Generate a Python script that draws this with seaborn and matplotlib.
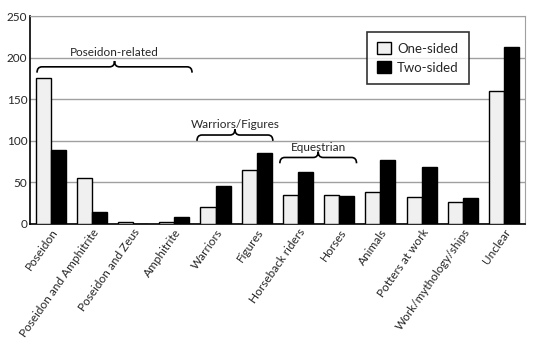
import numpy as np
import pandas as pd
import matplotlib
matplotlib.use('Agg')
import matplotlib.pyplot as plt
from matplotlib.path import Path
from matplotlib.patches import PathPatch, Patch
import seaborn as sns

categories = ['Poseidon', 'Poseidon and Amphitrite', 'Poseidon and Zeus', 'Amphitrite',
              'Warriors', 'Figures', 'Horseback riders', 'Horses', 'Animals',
              'Potters at work', 'Work/mythology/ships', 'Unclear']
one_sided = [175, 55, 3, 2, 21, 65, 35, 35, 38, 33, 26, 160]
two_sided = [89, 15, 0, 8, 46, 85, 62, 34, 77, 68, 31, 213]
series = ['One-sided', 'Two-sided']

# brace groups: label, first x, last x, brace height, text baseline
groups = [
    ('Poseidon-related', -0.33, 3.43, 189, 202),
    ('Warriors/Figures', 3.55, 5.39, 107, 116),
    ('Equestrian', 5.56, 7.42, 80, 88),
]

df = pd.DataFrame({
    'category': categories * 2,
    'type': [series[0]] * len(categories) + [series[1]] * len(categories),
    'count': one_sided + two_sided,
})

sns.set_style('white')
plt.rcParams['font.family'] = ['Lato', 'DejaVu Sans']

fig = plt.figure(figsize=(5.36, 3.5), dpi=100)
ax = fig.add_axes([0.056, 0.36, 0.923, 0.594])

sns.barplot(data=df, x='category', y='count', hue='type', order=categories,
            palette={'One-sided': '#f0f0f0', 'Two-sided': 'black'},
            edgecolor='black', linewidth=1, width=0.73, gap=0,
            ax=ax, zorder=3, legend=False)

ax.set_xlim(-0.5, len(categories) - 0.5)
ax.set_ylim(0, 250)
ax.set_yticks([0, 50, 100, 150, 200, 250])
ax.yaxis.grid(True, color='#a0a0a0', linewidth=1, zorder=0)
ax.set_axisbelow(True)
ax.set_xlabel('')
ax.set_ylabel('')
ax.tick_params(axis='both', length=0, labelsize=8.5, pad=2)
ax.set_xticks(range(len(categories)))
ax.set_xticklabels(categories, rotation=55, ha='right', rotation_mode='anchor', fontsize=8.5)
for s in ['top', 'right']:
    ax.spines[s].set_color('#a0a0a0')
for s in ['left', 'bottom']:
    ax.spines[s].set_color('black')
    ax.spines[s].set_linewidth(1.2)


def brace(ax, x0, x1, y, h=7, dx=0.12):
    xm = (x0 + x1) / 2
    verts = [(x0, y - h), (x0, y), (x0 + dx, y),
             (xm - dx, y), (xm, y), (xm, y + h),
             (xm, y), (xm + dx, y),
             (x1 - dx, y), (x1, y), (x1, y - h)]
    codes = [Path.MOVETO, Path.CURVE3, Path.CURVE3,
             Path.LINETO, Path.CURVE3, Path.CURVE3,
             Path.CURVE3, Path.CURVE3,
             Path.LINETO, Path.CURVE3, Path.CURVE3]
    ax.add_patch(PathPatch(Path(verts, codes), fill=False, edgecolor='black',
                           linewidth=1.2, zorder=4))


for label, x0, x1, yb, yt in groups:
    brace(ax, x0, x1, yb)
    ax.text((x0 + x1) / 2, yt, label, ha='center', va='baseline', fontsize=8.5, zorder=5)

handles = [Patch(facecolor='#f0f0f0', edgecolor='black', label=series[0]),
           Patch(facecolor='black', edgecolor='black', label=series[1])]
leg = ax.legend(handles=handles, loc='upper right', bbox_to_anchor=(0.888, 0.925),
                borderaxespad=0, frameon=True, fancybox=False, fontsize=9.5,
                handlelength=1.0, handleheight=1.0, borderpad=0.8, labelspacing=0.5,
                handletextpad=0.5)
leg.get_frame().set_edgecolor('black')
leg.get_frame().set_linewidth(1.2)
leg.set_zorder(6)

fig.savefig('out.png', dpi=100)
